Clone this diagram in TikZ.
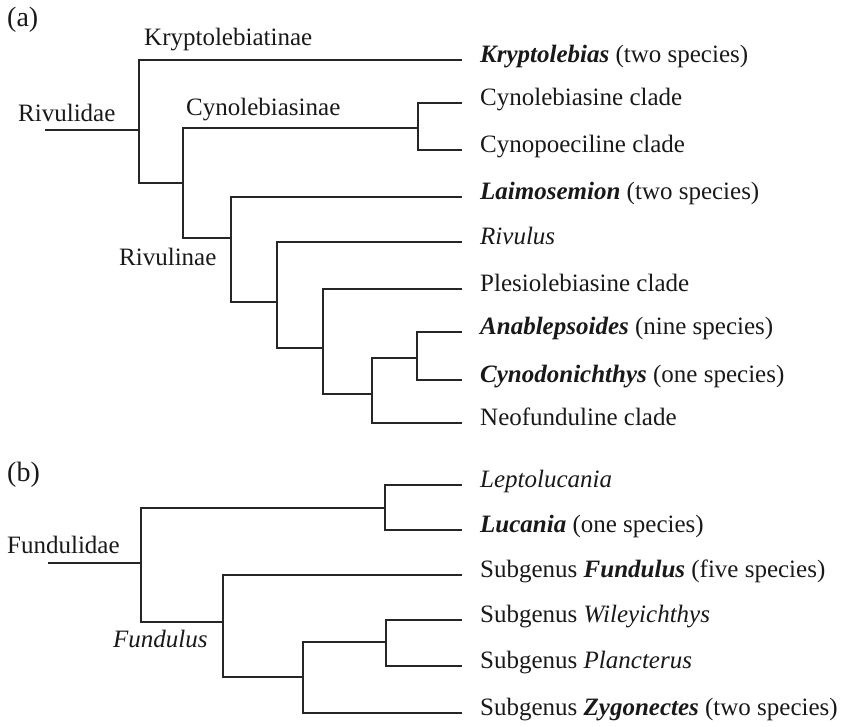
\documentclass[tikz,border=0pt]{standalone}
\usepackage{fontspec}
\setmainfont{Liberation Serif}
\tikzset{
  branch/.style={draw=black!85, line width=1.8pt},
  leaf/.style={anchor=mid west, inner xsep=18pt, inner ysep=0pt, text=black!90},
  cladelabel/.style={anchor=base west, inner sep=0pt, text=black!90},
}
\newcommand{\gen}[1]{\textbf{\textit{#1}}}

\begin{document}
\begin{tikzpicture}[x=1pt, y=-1pt, font=\fontsize{25}{30}\selectfont]
  \useasboundingbox (0,0) rectangle (849,727);

  % (a) Rivulidae
  \node[cladelabel] (tag-a) at (7,27) {\fontsize{28}{32}\selectfont(a)};
  \coordinate (a-root) at (45,130);
  \coordinate (rivulidae) at (139,130);
  \coordinate (cynriv) at (183,183);
  \coordinate (cynolebiasinae) at (418,128);
  \coordinate (rivulinae) at (231,238);
  \coordinate (r2) at (277,302);
  \coordinate (r3) at (323,348);
  \coordinate (r4) at (372,394);
  \coordinate (r5) at (417,358);

  \node[leaf] (kryp) at (462,60) {\gen{Kryptolebias} (two species)};
  \node[leaf] (cynol) at (462,103) {Cynolebiasine clade};
  \node[leaf] (cynop) at (462,150) {Cynopoeciline clade};
  \node[leaf] (laimo) at (462,197) {\gen{Laimosemion} (two species)};
  \node[leaf] (rivulus) at (462,242) {\textit{Rivulus}};
  \node[leaf] (plesio) at (462,289) {Plesiolebiasine clade};
  \node[leaf] (anable) at (462,332) {\gen{Anablepsoides} (nine species)};
  \node[leaf] (cynod) at (462,380) {\gen{Cynodonichthys} (one species)};
  \node[leaf] (neofun) at (462,423) {Neofunduline clade};

  \node[cladelabel] (lbl-rivulidae) at (18,122) {Rivulidae};
  \node[cladelabel] (lbl-krypt) at (144,46) {Kryptolebiatinae};
  \node[cladelabel] (lbl-cynol) at (186,116) {Cynolebiasinae};
  \node[cladelabel] (lbl-rivulinae) at (119,266) {Rivulinae};

  \draw[branch] (a-root) -- (rivulidae);
  \draw[branch] (rivulidae) |- (kryp.mid west);
  \draw[branch] (rivulidae) |- (cynriv);
  \draw[branch] (cynriv) |- (cynolebiasinae);
  \draw[branch] (cynriv) |- (rivulinae);
  \draw[branch] (cynolebiasinae) |- (cynol.mid west);
  \draw[branch] (cynolebiasinae) |- (cynop.mid west);
  \draw[branch] (rivulinae) |- (laimo.mid west);
  \draw[branch] (rivulinae) |- (r2);
  \draw[branch] (r2) |- (rivulus.mid west);
  \draw[branch] (r2) |- (r3);
  \draw[branch] (r3) |- (plesio.mid west);
  \draw[branch] (r3) |- (r4);
  \draw[branch] (r4) |- (r5);
  \draw[branch] (r4) |- (neofun.mid west);
  \draw[branch] (r5) |- (anable.mid west);
  \draw[branch] (r5) |- (cynod.mid west);

  % (b) Fundulidae
  \node[cladelabel] (tag-b) at (7,481) {\fontsize{28}{32}\selectfont(b)};
  \coordinate (b-root) at (48,563);
  \coordinate (fundulidae) at (141,563);
  \coordinate (lucgrp) at (385,508);
  \coordinate (fundulus) at (223,622);
  \coordinate (f2) at (303,677);
  \coordinate (f3) at (386,642);

  \node[leaf] (lepto) at (462,485) {\textit{Leptolucania}};
  \node[leaf] (lucania) at (462,530) {\gen{Lucania} (one species)};
  \node[leaf] (sg-fund) at (462,575) {Subgenus \gen{Fundulus} (five species)};
  \node[leaf] (sg-wiley) at (462,620) {Subgenus \textit{Wileyichthys}};
  \node[leaf] (sg-planc) at (462,666) {Subgenus \textit{Plancterus}};
  \node[leaf] (sg-zygo) at (462,713) {Subgenus \gen{Zygonectes} (two species)};

  \node[cladelabel] (lbl-fundulidae) at (7,553) {Fundulidae};
  \node[cladelabel] (lbl-fundulus) at (113,647) {\textit{Fundulus}};

  \draw[branch] (b-root) -- (fundulidae);
  \draw[branch] (fundulidae) |- (lucgrp);
  \draw[branch] (fundulidae) |- (fundulus);
  \draw[branch] (lucgrp) |- (lepto.mid west);
  \draw[branch] (lucgrp) |- (lucania.mid west);
  \draw[branch] (fundulus) |- (sg-fund.mid west);
  \draw[branch] (fundulus) |- (f2);
  \draw[branch] (f2) |- (f3);
  \draw[branch] (f2) |- (sg-zygo.mid west);
  \draw[branch] (f3) |- (sg-wiley.mid west);
  \draw[branch] (f3) |- (sg-planc.mid west);
\end{tikzpicture}
\end{document}
